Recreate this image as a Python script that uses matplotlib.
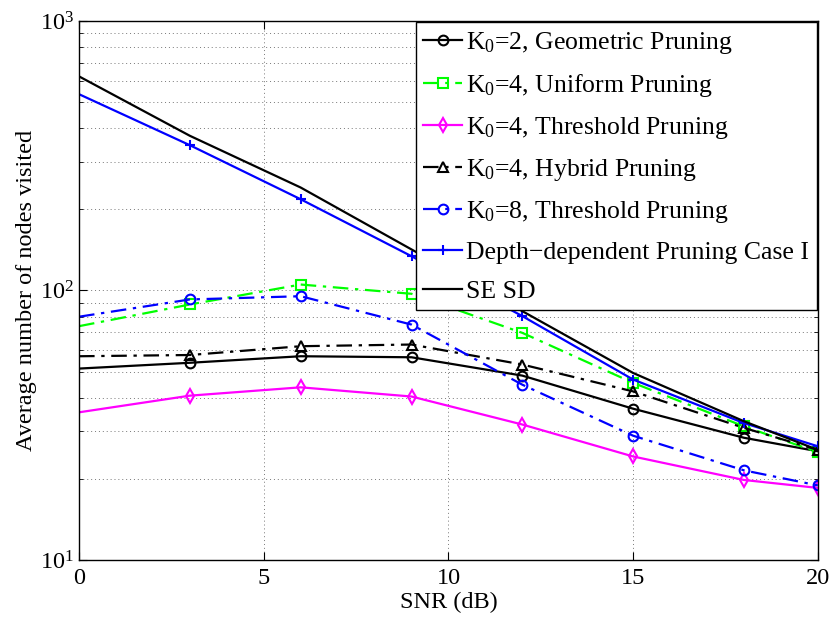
import matplotlib
matplotlib.use("Agg")
import matplotlib.pyplot as plt
from matplotlib.ticker import LogLocator, NullFormatter

plt.rcParams['font.family'] = ['Liberation Serif', 'DejaVu Serif']
plt.rcParams['mathtext.fontset'] = 'custom'
plt.rcParams['mathtext.rm'] = 'Liberation Serif'
plt.rcParams['mathtext.it'] = 'Liberation Serif:italic'
plt.rcParams['mathtext.bf'] = 'Liberation Serif:bold'

snr = [0, 3, 6, 9, 12, 15, 18, 20]
geometric_k2 = [51.3, 53.9, 57.0, 56.5, 48.3, 36.4, 28.4, 25.3]
uniform_k4 = [73.7, 88.7, 105.2, 97.2, 69.6, 45.4, 31.3, 25.1]
threshold_k4 = [35.3, 40.7, 43.7, 40.4, 31.8, 24.2, 19.8, 18.5]
hybrid_k4 = [57.0, 57.6, 62.1, 63.0, 53.1, 42.2, 30.9, 25.6]
threshold_k8 = [79.9, 92.6, 95.2, 74.7, 44.7, 28.9, 21.5, 18.9]
depth_case1 = [535, 346, 218, 134, 80.3, 46.7, 32.2, 26.4]
se_sd = [623, 375, 241, 142, 83.8, 49.4, 32.7, 25.6]

labels = [r'$\mathrm{K}_0$=2, Geometric Pruning',
          r'$\mathrm{K}_0$=4, Uniform Pruning',
          r'$\mathrm{K}_0$=4, Threshold Pruning',
          r'$\mathrm{K}_0$=4, Hybrid Pruning',
          r'$\mathrm{K}_0$=8, Threshold Pruning',
          'Depth\u2212dependent Pruning Case I',
          'SE SD']

fig = plt.figure(figsize=(8.32, 6.18), dpi=100)
ax = fig.add_axes([0.095, 0.094, 0.888, 0.872])

dashdot = (0, (7, 3, 1.5, 3))
me = slice(1, None)
lw = 1.6
ms = 7
kw = dict(linewidth=lw, markersize=ms, markerfacecolor='none', markeredgewidth=1.5, markevery=me)

ax.plot(snr, geometric_k2, color='black', linestyle='-', marker='o', label=labels[0], **kw)
ax.plot(snr, uniform_k4, color='#00ff00', linestyle=dashdot, marker='s', label=labels[1], **kw)
ax.plot(snr, threshold_k4, color='#ff00ff', linestyle='-', marker='d', label=labels[2], **kw)
ax.plot(snr, hybrid_k4, color='black', linestyle=dashdot, marker='^', label=labels[3], **kw)
ax.plot(snr, threshold_k8, color='blue', linestyle=dashdot, marker='o', label=labels[4], **kw)
ax.plot(snr, depth_case1, color='blue', linestyle='-', marker='+', label=labels[5], **kw)
ax.plot(snr, se_sd, color='black', linestyle='-', linewidth=lw, label=labels[6])

ax.set_yscale('log')
ax.set_xlim(0, 20)
ax.set_ylim(10, 1000)
ax.set_xticks([0, 5, 10, 15, 20])
ax.yaxis.set_minor_locator(LogLocator(base=10, subs=range(2, 10)))
ax.yaxis.set_minor_formatter(NullFormatter())

ax.grid(True, which='major', linestyle=(0, (1, 3)), color='#777777', linewidth=0.7)
ax.grid(True, which='minor', axis='y', linestyle=(0, (1, 3)), color='#777777', linewidth=0.7)
ax.tick_params(which='both', direction='in', top=True, right=True, labelsize=17.5)
ax.tick_params(which='major', length=6)
ax.tick_params(which='minor', length=3)
ax.tick_params(axis='x', pad=6)
for s in ax.spines.values():
    s.set_linewidth(1.0)

ax.set_xlabel('SNR (dB)', fontsize=17.5, labelpad=2)
ax.set_ylabel('Average number of nodes visited', fontsize=17.5, labelpad=2)

leg = ax.legend(loc='upper right', fontsize=18.5, frameon=True, fancybox=False,
                edgecolor='black', framealpha=1, borderaxespad=0.05,
                handlelength=1.5, handletextpad=0.15, labelspacing=0.62,
                borderpad=0.3)
leg.get_frame().set_linewidth(1.0)

fig.savefig('out.png', dpi=100)
